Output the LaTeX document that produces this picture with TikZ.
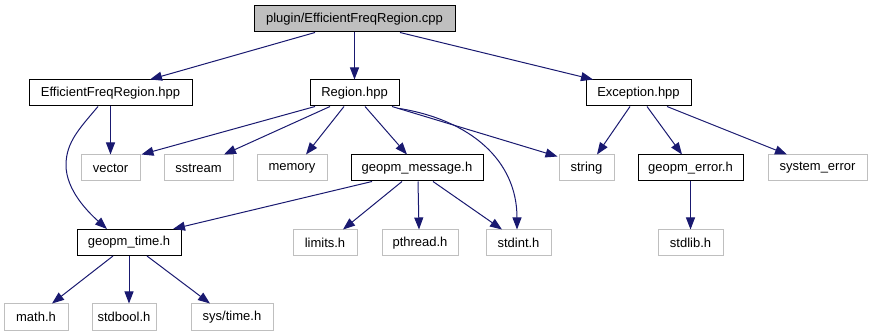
\documentclass[tikz,border=0pt]{standalone}
\usepackage{fontspec}
\setmainfont{Liberation Sans}
\usetikzlibrary{arrows.meta}
\definecolor{edgeblue}{HTML}{191970}
\definecolor{sysgray}{HTML}{BFBFBF}
\begin{document}
\begin{tikzpicture}[x=1pt,y=-1pt,
  file/.style={draw=black,line width=1pt,inner sep=0pt,minimum height=26pt,
    font=\fontsize{13}{15}\selectfont,fill=white},
  sys/.style={file,draw=sysgray},
  rootfile/.style={file,fill=sysgray},
  dep/.style={draw=edgeblue,line width=1pt,
    -{Triangle[length=12pt,width=9pt]},fill=none},
]
\useasboundingbox (0,0) rectangle (872,336);

% files
\node[rootfile,minimum width=201pt] (root) at (354.5,19) {plugin/EfficientFreqRegion.cpp};
\node[file,minimum width=163pt] (efr) at (110.5,93) {EfficientFreqRegion.hpp};
\node[file,minimum width=89pt] (region) at (354.5,93) {Region.hpp};
\node[file,minimum width=105pt] (exc) at (638.5,93) {Exception.hpp};

\node[sys,minimum width=59pt] (vector) at (110.5,168) {vector};
\node[sys,minimum width=69pt] (sstream) at (198.5,168) {sstream};
\node[sys,minimum width=70pt] (memory) at (292,168) {memory};
\node[file,minimum width=132pt] (msg) at (417,168) {geopm\_message.h};
\node[sys,minimum width=55pt] (string) at (586.5,168) {string};
\node[file,minimum width=105pt] (err) at (690.5,168) {geopm\_error.h};
\node[sys,minimum width=99pt] (syserr) at (817.5,168) {system\_error};

\node[file,minimum width=104pt] (time) at (129,242.5) {geopm\_time.h};
\node[sys,minimum width=64pt] (limits) at (325,243) {limits.h};
\node[sys,minimum width=76pt] (pthread) at (420,243) {pthread.h};
\node[sys,minimum width=65pt] (stdint) at (518.5,243) {stdint.h};
\node[sys,minimum width=65pt] (stdlib) at (690.5,243) {stdlib.h};

\node[sys,minimum width=64pt] (math) at (36,317) {math.h};
\node[sys,minimum width=64pt] (stdbool) at (124,317) {stdbool.h};
\node[sys,minimum width=82pt] (systime) at (232,317) {sys/time.h};

% include edges
\draw[dep] ([xshift=-39.5pt]root.south) -- ([xshift=39.5pt]efr.north);
\draw[dep] (root.south) -- (region.north);
\draw[dep] ([xshift=45.5pt]root.south) -- ([xshift=-45.5pt]exc.north);

\draw[dep] (efr.south) -- (vector.north);
\draw[dep] ([xshift=-12.5pt]efr.south) .. controls (80,128) and (66,142) .. (66,165)
  .. controls (66,190) and (88,212) .. ([xshift=-22pt]time.north);

\draw[dep] ([xshift=-39.5pt]region.south) -- ([xshift=1pt]vector.north east);
\draw[dep] ([xshift=-24.5pt]region.south) -- ([xshift=25.5pt]sstream.north);
\draw[dep] ([xshift=-10.5pt]region.south) -- ([xshift=14pt]memory.north);
\draw[dep] ([xshift=10.5pt]region.south) -- ([xshift=-10pt]msg.north);
\draw[dep] ([xshift=37.5pt]region.south) -- ([xshift=-1pt,yshift=-2pt]string.north west);
\draw[dep] ([yshift=-2pt]region.south east) .. controls (470,120) and (517,160) .. ([xshift=-1.5pt]stdint.north);

\draw[dep] ([xshift=-8.5pt]exc.south) -- ([xshift=10.5pt]string.north);
\draw[dep] ([xshift=8.5pt]exc.south) -- ([xshift=-8.5pt]err.north);
\draw[dep] ([xshift=28.5pt]exc.south) -- ([xshift=-30.5pt]syserr.north);

\draw[dep] ([xshift=-45pt]msg.south) -- ([xshift=44pt]time.north);
\draw[dep] ([xshift=-15pt]msg.south) -- ([xshift=18pt]limits.north);
\draw[dep] ([xshift=1pt]msg.south) -- ([xshift=-1pt]pthread.north);
\draw[dep] ([xshift=16pt]msg.south) -- ([xshift=-16.5pt]stdint.north);

\draw[dep] (err.south) -- (stdlib.north);

\draw[dep] ([xshift=-16pt]time.south) -- ([xshift=16pt]math.north);
\draw[dep] (time.south) -- ([xshift=5pt]stdbool.north);
\draw[dep] ([xshift=18pt]time.south) -- ([xshift=-22pt]systime.north);
\end{tikzpicture}
\end{document}
